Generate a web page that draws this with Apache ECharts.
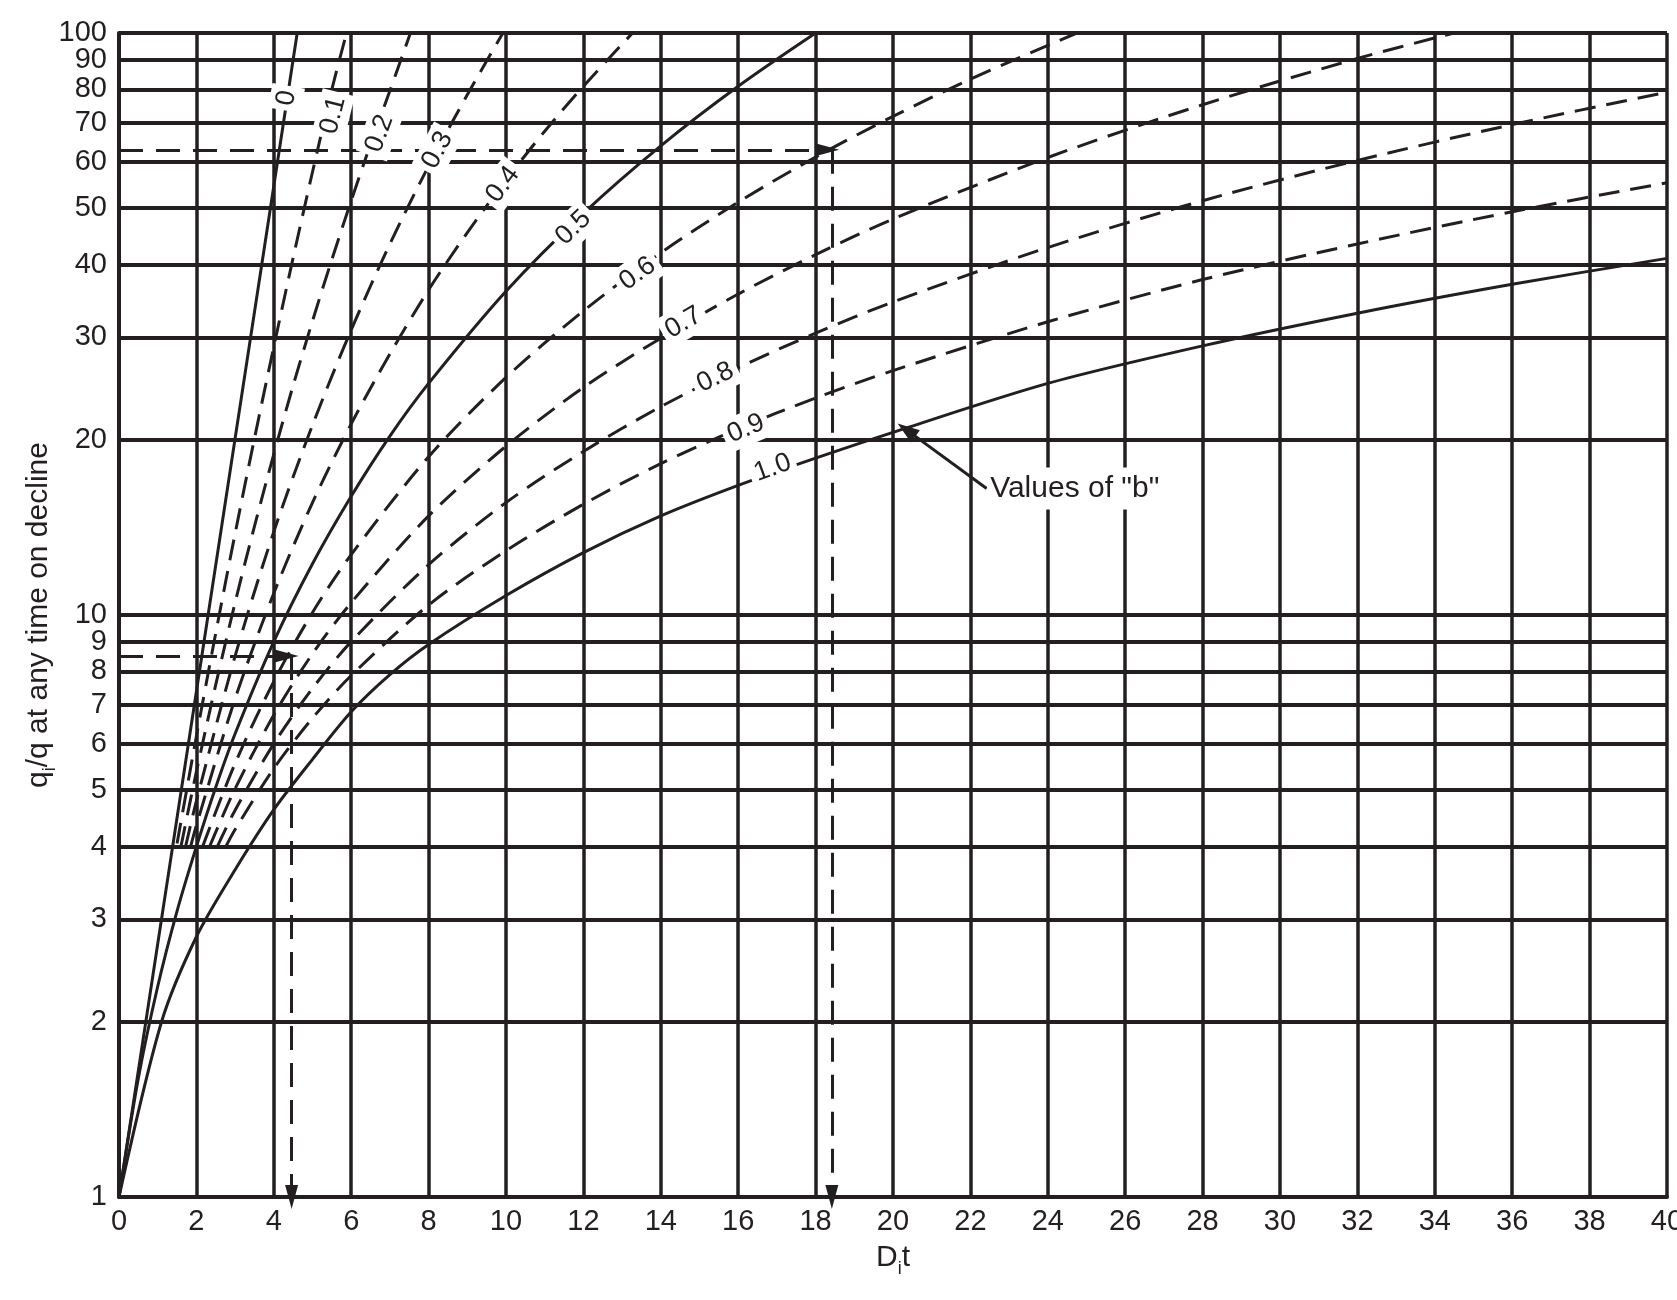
<!DOCTYPE html>
<html><head><meta charset="utf-8">
<script src="https://cdn.jsdelivr.net/npm/echarts@6/dist/echarts.min.js"></script>
<style>html,body{margin:0;padding:0;background:#fff}#chart{width:1677px;height:1300px}</style>
</head><body><div id="chart"></div>
<script>
// ---- data ----
const yTicks = [1,2,3,4,5,6,7,8,9,10,20,30,40,50,60,70,80,90,100];
const bLabels = ['0','0.1','0.2','0.3','0.4','0.5','0.6','0.7','0.8','0.9','1.0'];
const b00 = [[0,1],[1,2.72],[2,7.39],[3,20.1],[4,54.6],[4.6,99.5]];
const b01 = [[1.5,4.05],[2,6.19],[2.5,9.31],[3,13.8],[3.5,20.1],[4,28.9],[4.5,41.1],[5,57.7],[5.5,80.0],[5.88,100]];
const b02 = [[1.6,4.0],[2,5.38],[2.5,7.59],[3,10.5],[3.5,14.2],[4,18.9],[4.5,24.8],[5,32],[5.5,40.8],[6,51.5],[6.5,64.4],[7,79.6],[7.53,100]];
const b03 = [[1.72,4.0],[2,4.79],[3,8.5],[4,13.9],[5,21.2],[6,30.9],[7,43.4],[8,59.1],[9,78.3],[9.92,100]];
const b04 = [[1.85,4.0],[2,4.35],[3,7.18],[4,10.9],[5,15.6],[6,21.3],[7,28.1],[8,36.2],[9,45.4],[10,55.9],[11,67.8],[12,81.0],[13.27,100]];
const b05 = [[0,1],[0.5,1.6],[1,2.3],[1.5,3.1],[2,4],[2.5,5.06],[3,6.25],[4,9],[5,12.25],[6,16],[7,20.3],[8,25],[10,36],[12,49],[14,64],[16,81],[18,100]];
const b06 = [[2.16,4.0],[3,5.56],[4,7.69],[5,10.1],[6,12.7],[8,18.7],[10,25.6],[12,33.3],[14,41.9],[16,51.2],[18,61.2],[20,71.9],[22,83.3],[24.75,100]];
const b07 = [[2.34,4.0],[3,5.03],[4,6.73],[5,8.58],[6,10.5],[8,14.8],[10,19.5],[12,24.6],[14,29.9],[16,35.6],[18,41.6],[20,47.9],[24,61.1],[28,75.3],[32,90.4],[34.5,100]];
const b08 = [[2.54,4.0],[3,4.62],[4,6.01],[5,7.48],[6,9.0],[8,12.2],[10,15.6],[12,19.1],[14,22.8],[16,26.6],[18,30.5],[20,34.5],[24,42.8],[28,51.5],[32,60.4],[36,69.6],[40,79.1]];
const b09 = [[2.76,4.0],[3,4.28],[4,5.45],[5,6.65],[6,7.87],[8,10.4],[10,12.9],[12,15.5],[14,18.2],[16,20.9],[18,23.6],[20,26.3],[24,31.9],[28,37.7],[32,43.4],[36,49.3],[40,55.3]];
const b10 = [[0,1],[1.1,2],[2,2.8],[3,3.65],[4,4.63],[5,5.65],[6,6.82],[7,7.9],[8,8.9],[10,10.8],[12,12.8],[14,14.8],[16,16.7],[18,18.6],[20,20.6],[24,25],[28,29],[32,33],[36,37],[40,41]];
const curveData = [b00,b01,b02,b03,b04,b05,b06,b07,b08,b09,b10];
const dashedCurve = [false,true,true,true,true,false,true,true,true,true,false];
// where each curve's "b" label sits (data coords) and its slant
const labelAt = [[4.33,77.3],[5.53,72.2],[6.73,67.2],[8.23,62.9],[9.92,54.9],[11.74,46.3],[13.4,38.6],[14.59,31.8],[15.41,25.6],[16.2,20.9],[16.89,17.9]];
const labelAngle = [80,76,70,62,53,44,36,30,26,23,20];
// worked examples (dashed arrows)
const example1 = {q: 63, xEnd: 18.3, xDrop: 18.42};
const example2 = {q: 8.5, xEnd: 4.33, xDrop: 4.46};
const noteText = 'Values of "b"';
const noteFrom = [22.42, 16.5];
const noteTo = [20.35, 20.8];

// ---- chart ----
const INK = '#231f20';
const FONT = '"Liberation Sans", Arial, Helvetica, sans-serif';
const chart = echarts.init(document.getElementById('chart'), null, {renderer: 'canvas'});

const series = [];
// horizontal grid lines + y tick labels (on the log scale)
series.push({
  type: 'line', data: [], silent: true,
  markLine: {
    silent: true, z: 1, symbol: ['none','none'], animation: false,
    lineStyle: {type: 'solid', width: 4, color: INK},
    label: {show: true, position: 'start', distance: 12, formatter: p => String(p.value),
            fontSize: 29, color: INK, fontFamily: FONT},
    emphasis: {disabled: true},
    data: yTicks.map(v => ({yAxis: v}))
  }
});
curveData.forEach((d, i) => {
  series.push({
    type: 'line', name: bLabels[i], data: d, showSymbol: false, smooth: 0.3,
    z: 3, silent: true, animation: false,
    lineStyle: {color: INK, width: 3, type: dashedCurve[i] ? [21, 11] : 'solid', cap: 'butt'},
    markPoint: {
      z: 10, silent: true, animation: false,
      symbol: 'rect', symbolSize: 1, itemStyle: {color: 'rgba(0,0,0,0)'},
      label: {show: true, position: 'inside', formatter: '{b}', rotate: labelAngle[i],
              backgroundColor: '#fff', padding: [3, 5], fontSize: 27, color: INK, fontFamily: FONT},
      data: [{name: bLabels[i], coord: labelAt[i]}]
    }
  });
});
// dashed example arrows
series.push({
  type: 'line', data: [], silent: true,
  markLine: {
    silent: true, z: 4, animation: false, symbol: ['none','triangle'], symbolSize: [13, 24],
    lineStyle: {type: [24, 13], width: 3, color: INK},
    itemStyle: {color: INK},
    label: {show: false},
    data: [
      [{coord: [0, example1.q]}, {coord: [example1.xEnd, example1.q]}],
      [{coord: [example1.xDrop, example1.q]}, {coord: [example1.xDrop, 1]}],
      [{coord: [0, example2.q]}, {coord: [example2.xEnd, example2.q]}],
      [{coord: [example2.xDrop, example2.q]}, {coord: [example2.xDrop, 1]}]
    ]
  }
});
// note with curved arrow
series.push({
  type: 'line', data: [], silent: true,
  markLine: {
    silent: true, z: 4, animation: false, symbol: ['none','triangle'], symbolSize: [15, 22],
    lineStyle: {type: 'solid', width: 3, color: INK, curveness: 0.38},
    label: {show: false},
    data: [[{coord: noteFrom}, {coord: noteTo}]]
  },
  markPoint: {
    z: 10, silent: true, animation: false, symbol: 'rect', symbolSize: 1,
    itemStyle: {color: 'rgba(0,0,0,0)'},
    label: {show: true, position: 'right', distance: 0, formatter: '{b}', backgroundColor: '#fff',
            padding: [6, 3], fontSize: 30, color: INK, fontFamily: FONT},
    data: [{name: noteText, coord: noteFrom}]
  }
});

chart.setOption({
  animation: false,
  backgroundColor: '#fff',
  textStyle: {fontFamily: FONT},
  grid: {left: 119, right: 10, top: 33, bottom: 103, containLabel: false, outerBoundsMode: 'none'},
  xAxis: {
    type: 'value', min: 0, max: 40, interval: 2,
    axisLine: {show: true, lineStyle: {color: INK, width: 4}},
    axisTick: {show: false},
    axisLabel: {fontSize: 29, color: INK, margin: 10, fontFamily: FONT},
    splitLine: {show: true, lineStyle: {color: INK, width: 3.5}},
    name: '{m|D}{s|i}{m|t}', nameLocation: 'middle', nameGap: 41,
    nameTextStyle: {color: INK, fontFamily: FONT,
      rich: {m: {fontSize: 30, lineHeight: 40, color: INK, fontFamily: FONT},
             s: {fontSize: 18, lineHeight: 18, verticalAlign: 'bottom', color: INK, fontFamily: FONT}}}
  },
  yAxis: {
    type: 'log', logBase: 10, min: 1, max: 100,
    axisLine: {show: true, lineStyle: {color: INK, width: 4}},
    axisTick: {show: false},
    axisLabel: {show: false},
    splitLine: {show: false},
    minorSplitLine: {show: false},
    name: '{m|q}{s|i}{m|/q at any time on decline}', nameLocation: 'middle', nameRotate: 90, nameGap: 60,
    nameTextStyle: {color: INK, fontFamily: FONT,
      rich: {m: {fontSize: 30, lineHeight: 40, color: INK, fontFamily: FONT},
             s: {fontSize: 18, lineHeight: 18, verticalAlign: 'bottom', color: INK, fontFamily: FONT}}}
  },
  series: series
});
</script></body></html>
